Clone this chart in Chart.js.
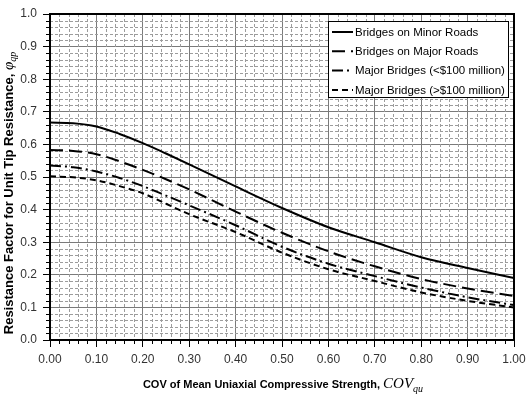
<!DOCTYPE html>
<html>
<head>
<meta charset="utf-8">
<script src="https://cdn.jsdelivr.net/npm/chart.js@4.4.1/dist/chart.umd.min.js"></script>
<style>
    html, body { margin: 0; padding: 0; background: #fff; }
    #wrap { width: 531px; height: 396px; }
</style>
</head>
<body>
<div id="wrap"><canvas id="chart" width="531" height="396"></canvas></div>
<script>
// =============================================================================
// Resistance factor vs COV of mean uniaxial compressive strength
// =============================================================================

// COV_qu values (x)
const covValues = [0, 0.05, 0.10, 0.15, 0.20, 0.25, 0.30, 0.40, 0.50, 0.60, 0.70, 0.80, 0.90, 1.00];

// resistance factor
const minorRoads   = [0.667, 0.665, 0.655, 0.632, 0.604, 0.572, 0.539, 0.471, 0.405, 0.346, 0.300, 0.254, 0.221, 0.190];
const majorRoads   = [0.583, 0.580, 0.570, 0.548, 0.522, 0.493, 0.462, 0.394, 0.329, 0.272, 0.226, 0.187, 0.158, 0.135];
const majorUnder   = [0.535, 0.530, 0.517, 0.497, 0.472, 0.443, 0.413, 0.352, 0.286, 0.234, 0.196, 0.161, 0.131, 0.107];
const majorOver    = [0.502, 0.499, 0.490, 0.472, 0.450, 0.418, 0.386, 0.331, 0.268, 0.217, 0.181, 0.146, 0.120, 0.100];

const seriesLabels = [
    'Bridges on Minor Roads',
    'Bridges on Major Roads',
    'Major Bridges (<$100 million)',
    'Major Bridges (>$100 million)'
];

const xTitle = 'COV of Mean Uniaxial Compressive Strength, ';
const xTitleSym = 'COV';
const xTitleSub = 'qu';
const yTitle = 'Resistance Factor for Unit Tip Resistance, ';
const yTitleSym = 'φ';
const yTitleSub = 'qp';

const SANS = "'Liberation Sans', Arial, sans-serif";
const SERIF = "'Liberation Serif', 'Times New Roman', serif";

const isMajor = v => Math.round(v * 100) % 10 === 0;
const toPoints = ys => covValues.map((x, i) => ({ x: x, y: ys[i] }));

// minor dashed grid, minor ticks, top/right frame
const gridFrame = {
    id: 'gridFrame',
    beforeDatasetsDraw(chart) {
        const { ctx, chartArea: a, scales: { x, y } } = chart;
        ctx.save();
        ctx.lineWidth = 1;
        ctx.strokeStyle = '#9c9c9c';
        ctx.setLineDash([3, 2]);
        x.ticks.forEach(t => {
            if (isMajor(t.value)) return;
            const px = Math.round(x.getPixelForValue(t.value)) + 0.5;
            ctx.beginPath(); ctx.moveTo(px, a.top); ctx.lineTo(px, a.bottom); ctx.stroke();
        });
        y.ticks.forEach(t => {
            if (isMajor(t.value)) return;
            const py = Math.round(y.getPixelForValue(t.value)) + 0.5;
            ctx.beginPath(); ctx.moveTo(a.left, py); ctx.lineTo(a.right, py); ctx.stroke();
        });
        // minor tick marks (outside)
        ctx.setLineDash([]);
        ctx.strokeStyle = '#000';
        x.ticks.forEach(t => {
            if (isMajor(t.value)) return;
            const px = Math.round(x.getPixelForValue(t.value)) + 0.5;
            ctx.beginPath(); ctx.moveTo(px, a.bottom); ctx.lineTo(px, a.bottom + 4); ctx.stroke();
        });
        y.ticks.forEach(t => {
            if (isMajor(t.value)) return;
            const py = Math.round(y.getPixelForValue(t.value)) + 0.5;
            ctx.beginPath(); ctx.moveTo(a.left - 4, py); ctx.lineTo(a.left, py); ctx.stroke();
        });
        ctx.restore();
    },
    afterDatasetsDraw(chart) {
        const { ctx, chartArea: a } = chart;
        ctx.save();
        ctx.strokeStyle = '#000';
        ctx.lineWidth = 2;
        ctx.strokeRect(a.left, a.top, a.right - a.left, a.bottom - a.top);
        ctx.restore();
    }
};

// boxed legend in the upper right of the plot
const boxLegend = {
    id: 'boxLegend',
    afterDraw(chart) {
        const { ctx, chartArea: a } = chart;
        const bw = 180, bh = 76;
        const bx = a.right - bw - 6, by = a.top + 7;
        ctx.save();
        ctx.fillStyle = '#fff';
        ctx.fillRect(bx, by, bw, bh);
        ctx.strokeStyle = '#000';
        ctx.lineWidth = 1;
        ctx.strokeRect(bx + 0.5, by + 0.5, bw, bh);
        ctx.font = '11.5px ' + SANS;
        ctx.textBaseline = 'middle';
        ctx.fillStyle = '#000';
        chart.data.datasets.forEach((ds, i) => {
            const ly = by + 11 + i * 19.3;
            ctx.setLineDash(ds.borderDash || []);
            ctx.lineWidth = 2;
            ctx.beginPath(); ctx.moveTo(bx + 4, ly); ctx.lineTo(bx + 25, ly); ctx.stroke();
            ctx.setLineDash([]);
            ctx.fillText(ds.label, bx + 27, ly + 0.5);
        });
        ctx.restore();
    }
};

// axis titles with italic symbol + subscript
function drawRich(ctx, parts, cx, cy) {
    let total = 0;
    parts.forEach(p => { ctx.font = p.font; p.w = ctx.measureText(p.text).width; total += p.w; });
    let x = cx - total / 2;
    parts.forEach(p => {
        ctx.font = p.font;
        ctx.fillText(p.text, x, cy + (p.dy || 0));
        x += p.w;
    });
}

const axisTitles = {
    id: 'axisTitles',
    afterDraw(chart) {
        const { ctx } = chart;
        ctx.save();
        ctx.fillStyle = '#000';
        ctx.textBaseline = 'alphabetic';
        ctx.textAlign = 'left';
        drawRich(ctx, [
            { text: xTitle, font: 'bold 11px ' + SANS },
            { text: xTitleSym, font: 'italic 15px ' + SERIF },
            { text: xTitleSub, font: 'italic 10px ' + SERIF, dy: 4 }
        ], 283, 388);

        ctx.translate(13, 193);
        ctx.rotate(-Math.PI / 2);
        drawRich(ctx, [
            { text: yTitle, font: 'bold 13px ' + SANS },
            { text: yTitleSym, font: 'italic 15px ' + SERIF },
            { text: yTitleSub, font: 'italic 10px ' + SERIF, dy: 3 }
        ], 0, 0);
        ctx.restore();
    }
};

const seriesData = [minorRoads, majorRoads, majorUnder, majorOver];
const dashes = [[], [13, 6], [11, 4, 2, 4], [6, 4]];

const datasets = seriesData.map((ys, i) => ({
    label: seriesLabels[i],
    data: toPoints(ys),
    borderColor: '#000',
    borderWidth: 2,
    borderDash: dashes[i],
    pointRadius: 0,
    fill: false,
    cubicInterpolationMode: 'monotone'
}));

const tickFont = { family: SANS, size: 12 };

new Chart(document.getElementById('chart').getContext('2d'), {
    type: 'line',
    data: { datasets: datasets },
    options: {
        responsive: false,
        animation: false,
        layout: { padding: { top: 14, right: 17, left: 0, bottom: 0 } },
        plugins: {
            legend: { display: false },
            tooltip: { enabled: false }
        },
        scales: {
            x: {
                type: 'linear',
                min: 0,
                max: 1,
                afterFit(s) { s.height = 56; },
                border: { color: '#000', width: 2 },
                grid: {
                    color: c => (c.tick && isMajor(c.tick.value)) ? '#7a7a7a' : 'rgba(0,0,0,0)',
                    tickColor: c => (c.tick && isMajor(c.tick.value)) ? '#000' : 'rgba(0,0,0,0)',
                    tickLength: 7,
                    lineWidth: 1
                },
                ticks: {
                    stepSize: 0.02,
                    autoSkip: false,
                    maxRotation: 0,
                    padding: 5,
                    color: '#333',
                    font: tickFont,
                    callback: v => isMajor(v) ? v.toFixed(2) : ''
                }
            },
            y: {
                min: 0,
                max: 1,
                afterFit(s) { s.width = 50; },
                border: { color: '#000', width: 2 },
                grid: {
                    color: c => (c.tick && isMajor(c.tick.value)) ? '#7a7a7a' : 'rgba(0,0,0,0)',
                    tickColor: c => (c.tick && isMajor(c.tick.value)) ? '#000' : 'rgba(0,0,0,0)',
                    tickLength: 7,
                    lineWidth: 1
                },
                ticks: {
                    stepSize: 0.02,
                    autoSkip: false,
                    padding: 6,
                    color: '#333',
                    font: tickFont,
                    callback: v => isMajor(v) ? v.toFixed(1) : ''
                }
            }
        }
    },
    plugins: [gridFrame, boxLegend, axisTitles]
});
</script>
</body>
</html>
